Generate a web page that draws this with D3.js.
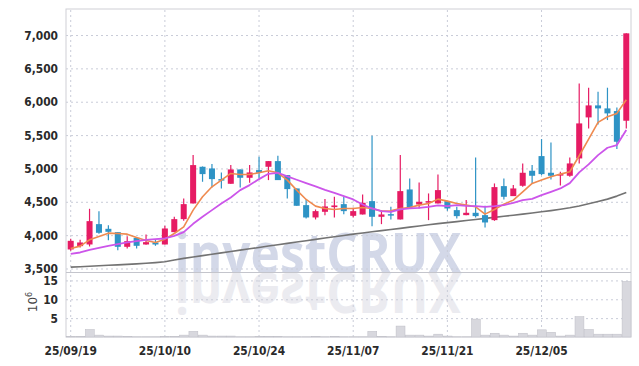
<!DOCTYPE html>
<meta charset="utf-8">
<script src="https://d3js.org/d3.v7.min.js"></script>
<style>
  body { margin: 0; background: #fff; }
  .lbl { font-family: "DejaVu Sans", sans-serif; font-weight: bold; font-size: 13px; fill: #2a2a2a; }
  .grid line { stroke: #c9ccd8; stroke-dasharray: 2,3; }
</style>
<div id="chart"></div>
<script>
// trading days shown
var dates = ["25/09/19","25/09/22","25/09/23","25/09/24","25/09/25","25/09/26","25/09/29","25/09/30","25/10/01","25/10/02",
  "25/10/10","25/10/13","25/10/14","25/10/15","25/10/16","25/10/17","25/10/20","25/10/21","25/10/22","25/10/23",
  "25/10/24","25/10/27","25/10/28","25/10/29","25/10/30","25/10/31","25/11/03","25/11/04","25/11/05","25/11/06",
  "25/11/07","25/11/10","25/11/11","25/11/12","25/11/13","25/11/14","25/11/17","25/11/18","25/11/19","25/11/20",
  "25/11/21","25/11/24","25/11/25","25/11/26","25/11/27","25/11/28","25/12/01","25/12/02","25/12/03","25/12/04",
  "25/12/05","25/12/08","25/12/09","25/12/10","25/12/11","25/12/12","25/12/15","25/12/16","25/12/17","25/12/18"];
var opens  = [3785,3835,3860,4165,4095,4045,3825,3960,3860,3890, 3860,4045,4240,4475,5025,5000,4840,4770,4985,4860,
              4975,5025,5110,4900,4700,4450,4265,4350,4420,4465, 4290,4310,4510,4275,4315,4235,4685,4460,4510,4475,
              4510,4375,4300,4335,4300,4225,4735,4585,4740,4965, 5185,4935,4895,4890,5150,5765,5945,5900,5860,5715];
var highs  = [3945,3930,4395,4360,4150,4045,3985,3960,4010,3935, 4140,4275,4550,5200,5030,5065,4940,5050,4985,5050,
              5175,5110,5190,4900,4700,4535,4385,4540,4575,4575, 4410,4610,5490,4375,4425,5200,4850,4790,4625,4910,
              4510,4425,4525,5165,4440,4775,4850,4750,5075,5050, 5440,5390,4950,5165,6275,6210,6150,6210,5915,7025];
var lows   = [3765,3815,3830,4020,3925,3775,3800,3800,3855,3840, 3860,4045,4215,4475,4800,4715,4700,4770,4715,4785,
              4850,4825,4825,4550,4440,4250,4235,4300,4265,4315, 4265,4310,4135,4165,4235,4235,4415,4400,4225,4475,
              4365,4250,4300,4265,4115,4215,4535,4585,4725,4775, 4900,4835,4745,4875,5075,5600,5660,5725,5290,5600];
var closes = [3915,3890,4210,4035,4050,3825,3910,3840,3895,3860, 4100,4240,4465,5050,4915,4840,4830,4985,4860,4940,
              4935,5110,4825,4690,4440,4265,4360,4430,4445,4360, 4360,4485,4275,4310,4295,4660,4415,4500,4510,4675,
              4400,4285,4335,4285,4190,4720,4575,4700,4935,4890, 4915,4890,4915,5075,5675,5945,5900,5825,5400,7025];
var volumes = [0.2,0.2,2.0,0.5,0.25,0.25,0.2,0.05,0.05,0.05, 0.15,0.2,0.5,1.5,0.5,0.25,0.25,0.25,0.05,0.05,
               0.2,0.2,0.2,0.05,0.05,0.05,0.2,0.05,0.2,0.05, 0.05,0.05,1.5,0.2,0.05,2.9,0.5,0.5,0.25,0.75,
               0.25,0.05,0.05,4.75,0.5,1.0,0.5,0.25,1.0,0.5, 1.9,1.25,0.25,0.5,5.4,2.0,0.75,0.75,0.75,14.75];
var ma5  = [3800,3835,3930,3980,4030,4025,4015,3965,3920,3890, 3940,4025,4125,4375,4575,4725,4825,4925,4910,4910,
            4935,4965,4935,4825,4675,4535,4435,4400,4385,4400, 4400,4415,4400,4360,4365,4400,4415,4450,4475,4540,
            4510,4475,4450,4425,4315,4385,4465,4525,4650,4775, 4825,4875,4915,4950,5190,5440,5690,5775,5825,6030];
var ma20 = [3720,3740,3780,3810,3840,3865,3890,3910,3930,3940, 3950,3990,4045,4170,4275,4375,4475,4565,4675,4750,
            4840,4920,4935,4880,4830,4780,4730,4680,4635,4585, 4535,4460,4400,4360,4350,4385,4400,4410,4425,4445,
            4435,4450,4440,4435,4425,4435,4450,4485,4525,4545, 4600,4650,4700,4780,4940,5060,5200,5310,5350,5575];
var ma60 = [3520,3527,3534,3541,3548,3555,3562,3570,3578,3588, 3600,3628,3652,3672,3693,3713,3734,3755,3775,3795,
            3815,3836,3856,3876,3896,3916,3936,3956,3975,3995, 4015,4033,4050,4068,4085,4102,4120,4137,4155,4172,
            4188,4203,4219,4235,4251,4267,4283,4299,4315,4331, 4350,4368,4388,4410,4438,4470,4505,4540,4585,4640];
var priceTicks = [3500,4000,4500,5000,5500,6000,6500,7000];
var volTicks = [5,10,15];

var W = 639, H = 366;
var pLeft = 66, pRight = 631, pTop = 9, pMid = 272.5, pBottom = 337;

var svg = d3.select("#chart").append("svg").attr("width", W).attr("height", H);

var x = d3.scaleBand().domain(dates).range([pLeft, pRight]).padding(0);
var y = d3.scaleLinear().domain([3440, 7390]).range([pMid, pTop]);
var yv = d3.scaleLinear().domain([0, 17.1]).range([pBottom, pMid]);
var cx = function(d){ return x(d) + x.bandwidth() / 2; };

// watermark + reflection
var wm = svg.append("g").attr("font-family", "'Open Sans', 'DejaVu Sans', sans-serif").attr("font-weight", "bold").attr("font-size", 56);
wm.append("text").attr("x", 318).attr("y", pMid).attr("text-anchor", "middle")
  .attr("textLength", 287).attr("lengthAdjust", "spacingAndGlyphs")
  .attr("fill", "#d3d8e8").text("investCRUX");
wm.append("text").attr("x", 318).attr("y", -pMid).attr("text-anchor", "middle")
  .attr("transform", "scale(1,-1)")
  .attr("textLength", 287).attr("lengthAdjust", "spacingAndGlyphs")
  .attr("fill", "#ebebf0").text("investCRUX");

// grids
var tickDates = dates.filter(function(d, i){ return i % 10 === 0; });
svg.append("g").attr("class", "grid").attr("transform", "translate(0," + pBottom + ")")
  .call(d3.axisBottom(x).tickValues(tickDates).tickSize(-(pBottom - pTop)).tickFormat(""))
  .call(function(g){ g.select(".domain").remove(); });
svg.append("g").attr("class", "grid").attr("transform", "translate(" + pLeft + ",0)")
  .call(d3.axisLeft(y).tickValues(priceTicks).tickSize(-(pRight - pLeft)).tickFormat(""))
  .call(function(g){ g.select(".domain").remove(); });
svg.append("g").attr("class", "grid").attr("transform", "translate(" + pLeft + ",0)")
  .call(d3.axisLeft(yv).tickValues(volTicks).tickSize(-(pRight - pLeft)).tickFormat(""))
  .call(function(g){ g.select(".domain").remove(); });

// frame
svg.append("rect").attr("x", pLeft).attr("y", pTop).attr("width", pRight - pLeft).attr("height", pBottom - pTop)
  .attr("fill", "none").attr("stroke", "#cfd0d6").attr("stroke-width", 1);
svg.append("line").attr("x1", pLeft).attr("x2", pRight).attr("y1", pMid).attr("y2", pMid)
  .attr("stroke", "#c4c5cc").attr("stroke-width", 1.2);

// volume bars
svg.append("g").selectAll("rect").data(dates).enter().append("rect")
  .attr("x", function(d){ return x(d) + 0.5; })
  .attr("width", x.bandwidth() - 0.5)
  .attr("y", function(d, i){ return yv(volumes[i]); })
  .attr("height", function(d, i){ return pBottom - yv(volumes[i]); })
  .attr("fill", "#d8d8de").attr("stroke", "#bdbdc5").attr("stroke-width", 0.5);

// moving averages
function maLine(vals, color, w){
  var line = d3.line().x(function(d){ return cx(d); }).y(function(d, i){ return y(vals[i]); });
  svg.append("path").datum(dates).attr("d", line).attr("fill", "none")
    .attr("stroke", color).attr("stroke-width", w).attr("stroke-linejoin", "round");
}
maLine(ma60, "#737373", 1.6);

// candles
var up = "#e61b63", down = "#2e93c5";
var bw = x.bandwidth() * 0.64;
var candle = svg.append("g").selectAll("g").data(dates).enter().append("g");
candle.append("line")
  .attr("x1", cx).attr("x2", cx)
  .attr("y1", function(d, i){ return y(highs[i]); })
  .attr("y2", function(d, i){ return y(lows[i]); })
  .attr("stroke", function(d, i){ return closes[i] >= opens[i] ? up : down; })
  .attr("stroke-width", 1.2);
candle.append("rect")
  .attr("x", function(d){ return cx(d) - bw / 2; })
  .attr("width", bw)
  .attr("y", function(d, i){ return y(Math.max(opens[i], closes[i])); })
  .attr("height", function(d, i){ return Math.max(1.5, Math.abs(y(opens[i]) - y(closes[i]))); })
  .attr("fill", function(d, i){ return closes[i] >= opens[i] ? up : down; });

maLine(ma5, "#ef8a4f", 1.6);
maLine(ma20, "#cc55ea", 1.8);

// axes labels, squeezed to look condensed
function squeeze(g){
  g.select(".domain").remove();
  g.selectAll("text").attr("class", "lbl").each(function(){
    var len = this.getComputedTextLength();
    d3.select(this).attr("textLength", len * 0.82).attr("lengthAdjust", "spacingAndGlyphs");
  });
}
svg.append("g").attr("transform", "translate(" + (pLeft - 5) + ",0)")
  .call(d3.axisLeft(y).tickValues(priceTicks).tickSize(0).tickFormat(d3.format(",")))
  .call(squeeze);
svg.append("g").attr("transform", "translate(" + (pLeft - 5) + ",0)")
  .call(d3.axisLeft(yv).tickValues(volTicks).tickSize(0))
  .call(squeeze);
svg.append("g").attr("transform", "translate(0," + (pBottom + 6) + ")")
  .call(d3.axisBottom(x).tickValues(tickDates).tickSize(0))
  .call(squeeze);

var unit = svg.append("text").attr("transform", "translate(37,302) rotate(-90)")
  .attr("text-anchor", "middle").attr("font-family", "'DejaVu Sans', sans-serif")
  .attr("font-size", 12).attr("fill", "#444");
unit.append("tspan").text("10");
unit.append("tspan").attr("dy", -5).attr("font-size", 8).text("6");
</script>
